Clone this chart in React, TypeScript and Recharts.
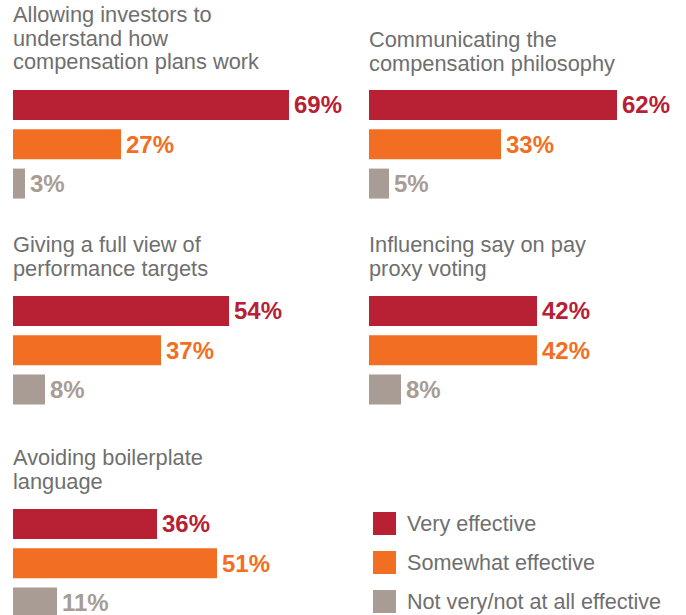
import { BarChart, Bar, XAxis, YAxis, Cell, LabelList } from "recharts";

const categories = ["Very effective", "Somewhat effective", "Not very/not at all effective"];
const titles = [
  ["Allowing investors to", "understand how", "compensation plans work"],
  ["Communicating the", "compensation philosophy"],
  ["Giving a full view of", "performance targets"],
  ["Influencing say on pay", "proxy voting"],
  ["Avoiding boilerplate", "language"],
];
const veryEffective = [69, 62, 54, 42, 36];
const somewhatEffective = [27, 33, 37, 42, 51];
const notEffective = [3, 5, 8, 8, 11];

const colors = ["#b82034", "#f26e22", "#a89c94"];
const FONT = '"Liberation Sans", Arial, Helvetica, sans-serif';
const TEXT = "#6f6f6f";
const PX_PER_PCT = 4;

// panel placement: left, title top, chart top, chart width
const panels = [
  { left: 13, titleTop: 3, chartTop: 85, width: 344 },
  { left: 369, titleTop: 28, chartTop: 85, width: 316 },
  { left: 13, titleTop: 233, chartTop: 291, width: 344 },
  { left: 369, titleTop: 233, chartTop: 291, width: 316 },
  { left: 13, titleTop: 446, chartTop: 504, width: 344 },
];

const BAND = 39.3;
const BAR = 30;

function renderLabel(props: any) {
  const { x, y, width, height, value, index } = props;
  return (
    <text
      x={Number(x) + Number(width) + 5}
      y={Number(y) + Number(height) / 2 + 8.5}
      fill={colors[index % 3]}
      fontSize={24}
      fontWeight="bold"
      fontFamily={FONT}
    >
      {value}%
    </text>
  );
}

function Panel({ i }: { i: number }) {
  const p = panels[i];
  const rows = categories.map((name, k) => ({
    name,
    value: [veryEffective, somewhatEffective, notEffective][k][i],
  }));
  return (
    <>
      <div
        style={{
          position: "absolute",
          left: p.left,
          top: p.titleTop,
          fontFamily: FONT,
          fontSize: 21.8,
          lineHeight: "23.5px",
          color: TEXT,
          whiteSpace: "nowrap",
        }}
      >
        {titles[i].map((t) => (
          <div key={t}>{t}</div>
        ))}
      </div>
      <div style={{ position: "absolute", left: p.left, top: p.chartTop }}>
        <BarChart
          width={p.width}
          height={BAND * 3}
          data={rows}
          layout="vertical"
          margin={{ top: 0, right: 0, bottom: 0, left: 0 }}
          barCategoryGap={BAND - BAR}
        >
          <XAxis type="number" domain={[0, p.width / PX_PER_PCT]} hide />
          <YAxis type="category" dataKey="name" hide />
          <Bar dataKey="value" barSize={BAR} isAnimationActive={false}>
            {rows.map((r, k) => (
              <Cell key={r.name} fill={colors[k]} />
            ))}
            <LabelList dataKey="value" content={renderLabel} />
          </Bar>
        </BarChart>
      </div>
    </>
  );
}

export default function App() {
  return (
    <div
      style={{
        position: "absolute",
        left: 0,
        top: 0,
        width: 686,
        height: 615,
        overflow: "hidden",
        background: "#fff",
      }}
    >
      {panels.map((_, i) => (
        <Panel key={i} i={i} />
      ))}
      <div style={{ position: "absolute", left: 373, top: 512 }}>
        {categories.map((c, k) => (
          <div key={c} style={{ display: "flex", alignItems: "center", height: 23, marginBottom: 16 }}>
            <div style={{ width: 23, height: 23, background: colors[k] }} />
            <span
              style={{
                marginLeft: 11,
                fontFamily: FONT,
                fontSize: 21.6,
                color: TEXT,
                whiteSpace: "nowrap",
              }}
            >
              {c}
            </span>
          </div>
        ))}
      </div>
    </div>
  );
}
